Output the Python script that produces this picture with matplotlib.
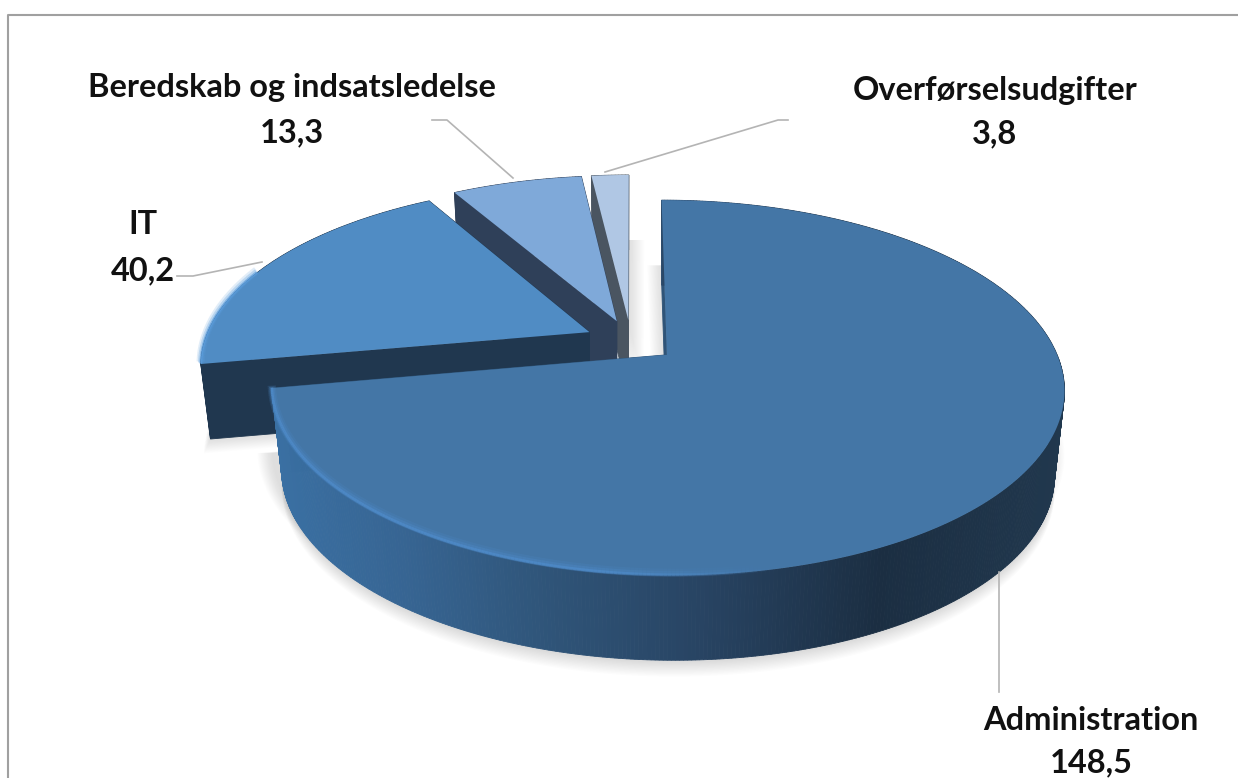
import numpy as np
import matplotlib
matplotlib.use("Agg")
import matplotlib.pyplot as plt
from matplotlib.patches import Polygon
from matplotlib.colors import to_rgb

names = ["Administration", "IT", "Beredskab og indsatsledelse", "Overførselsudgifter"]
values = [148.5, 40.2, 13.3, 3.8]

top_colors = ["#4476a6", "#508cc4", "#7fa9d9", "#b0c7e4"]
wall_colors = ["#2f5478", "#20374f", "#2f4059", "#4a5561"]
rim_colors = ["#4f8ccb", "#5c9edd", "#7fa9d9", "#b0c7e4"]
depths = [85, 75, 75, 75]
taper = 0.975

# projection of the pie plane, in pixels
cx, cy, rx, ry, k = 631, 341, 385, 177, 0.173
explode = 0.12

def project(x, y):
    s = 1 / (1 + k * y)
    return cx + rx * x * s, cy - ry * y * s

def slice_points(a0, a1):
    mid = np.radians((a0 + a1) / 2)
    ex, ey = explode * np.sin(mid), explode * np.cos(mid)
    t = np.radians(np.linspace(a0, a1, max(int(a1 - a0) * 2, 8)))
    X, Y = project(ex + np.sin(t), ey + np.cos(t))
    ax0, ay0 = project(ex, ey)
    return X, Y, ax0, ay0

def wall_gradient(x):
    # colour of the outer wall goes from lit left to dark right
    stops_x = [270, 400, 550, 700, 880, 1065]
    stops = [to_rgb(c) for c in ["#3a70a3", "#376593", "#2f5478", "#284463", "#1b2e42", "#21384e"]]
    return [np.interp(x, stops_x, [c[i] for c in stops]) for i in range(3)]

fig = plt.figure(figsize=(12.38, 7.78), dpi=100)
ax = fig.add_axes([0, 0, 1, 1])
ax.set_xlim(0, 1238)
ax.set_ylim(778, 0)
ax.axis("off")

ax.plot([8, 8, 1238], [778, 15, 15], color="#a0a0a0", lw=1.5, zorder=1)

angles = np.cumsum([0] + values) / sum(values) * 360
geo = [slice_points(angles[i], angles[i + 1]) for i in range(len(values))]

# soft shadows under the pie
for i in range(12):
    X, Y, ax0, ay0 = geo[0]
    ax.add_patch(Polygon(np.c_[ax0 + (np.r_[X, ax0] - ax0) * taper, np.r_[Y, ay0] + depths[0] + 1.3 * i + 2],
                         fc="#808080", ec="none", alpha=0.022, zorder=2))
    X, Y, ax0, ay0 = geo[1]
    ax.add_patch(Polygon(np.c_[ax0 + (np.r_[X, ax0] - ax0) * taper - 0.6 * i, np.r_[Y, ay0] + depths[1] + 1.3 * i],
                         fc="#808080", ec="none", alpha=0.02, zorder=2))
    X, Y, ax0, ay0 = geo[3]
    ax.add_patch(Polygon(np.c_[np.r_[X, ax0] + 1.4 * i, np.r_[Y, ay0] + 65],
                         fc="#808080", ec="none", alpha=0.02, zorder=2))
    X, Y, ax0, ay0 = geo[0]
    ax.add_patch(Polygon(np.c_[np.r_[X, ax0] - 1.3 * i, np.r_[Y, ay0] + 65],
                         fc="#808080", ec="none", alpha=0.02, zorder=2))

# back slices first, the big one goes on top
z = 3
for i in [3, 2, 1, 0]:
    X, Y, ax0, ay0 = geo[i]
    d = depths[i]
    px = np.r_[ax0, X, ax0]
    py = np.r_[ay0, Y, ay0]
    bx = ax0 + (px - ax0) * taper
    # radial walls first, the rounded outer wall over them
    order = [0, len(px) - 2] + list(range(1, len(px) - 2))
    for j in order:
        radial = j == 0 or j == len(px) - 2
        c = wall_colors[i]
        if i == 0 and not radial:
            c = wall_gradient((px[j] + px[j + 1]) / 2)
        ax.add_patch(Polygon([[px[j], py[j]], [px[j + 1], py[j + 1]],
                              [bx[j + 1], py[j + 1] + d], [bx[j], py[j] + d]],
                             fc=c, ec=c, lw=0.6, zorder=z))
    z += 1
    ax.add_patch(Polygon(np.c_[px, py], fc=top_colors[i], ec="none", zorder=z))
    z += 1
    # lit edge along the front rim, fading out to the right
    front = (X < 780) & (Y > ay0 + 30) if i == 0 else (X < ax0 - 330) & (Y > ay0 - 60)
    if i < 2 and front.any():
        fx, fy = X[front], Y[front]
        fade = np.clip((780 - fx) / 180, 0, 1) if i == 0 else np.ones(len(fx))
        for lw, al in [(6, 0.18), (4, 0.3), (2, 0.7)]:
            for j in range(len(fx) - 1):
                ax.plot(fx[j:j + 2], fy[j:j + 2] - lw / 2 + 0.5, color=rim_colors[i], lw=lw,
                        alpha=al * fade[j], solid_capstyle="butt", zorder=z)
    z += 1

# leader lines
leader_x = [[999, 999], [177, 193, 262], [432, 447, 513], [788, 778, 605]]
leader_y = [[572, 692], [276, 276, 262], [120, 120, 178], [120, 120, 172]]
for lx, ly in zip(leader_x, leader_y):
    ax.plot(lx, ly, color="#b4b4b4", lw=1.2, zorder=z)

# labels, comma as decimal sign
label_x = [1091, 143, 292, 995]
name_y = [720, 224, 87, 90]
value_y = [763, 271, 133, 134]
for i in range(len(names)):
    for txt, yy in [(names[i], name_y[i]), (f"{values[i]:.1f}".replace(".", ","), value_y[i])]:
        ax.text(label_x[i], yy, txt, ha="center", va="center", fontsize=23.4,
                fontweight="bold", family="Lato", color="#111111", zorder=z + 1)

fig.savefig("out.png", dpi=100)
